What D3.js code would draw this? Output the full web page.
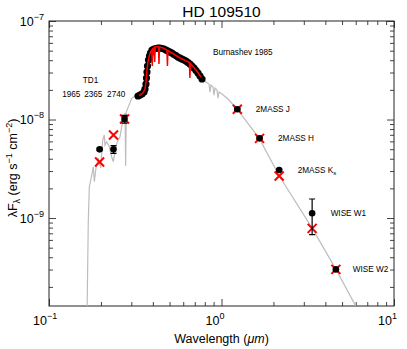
<!DOCTYPE html>
<html>
<head>
<meta charset="utf-8">
<script src="https://cdn.jsdelivr.net/npm/d3@7"></script>
<style>
  body { margin: 0; background: #fff; }
  svg { font-family: "Liberation Sans", Arial, Helvetica, sans-serif; }
</style>
</head>
<body>
<div id="chart"></div>
<script>
// model SED (grey line), wavelength in micron, lambda*F_lambda in erg s-1 cm-2
const modelWave = [0.1661, 0.1690, 0.1713, 0.1769, 0.1807, 0.1831, 0.1873, 0.1931, 0.1994, 0.2048,
  0.2092, 0.2111, 0.2160, 0.2236, 0.2309, 0.2359, 0.2413, 0.2469, 0.2580, 0.2639,
  0.2696, 0.2759, 0.2782, 0.2804, 0.3017, 0.3152, 0.3281, 0.3601, 0.3649, 0.3774,
  0.3955, 0.4401, 0.5029, 0.6227, 0.7709, 0.8128, 0.8463, 0.8577, 0.8692, 0.8926,
  0.9047, 0.9168, 0.9417, 0.9544, 0.9672, 1.0067, 1.0906, 1.235, 1.656, 2.163,
  3.36, 4.61, 6.00, 6.79];
const modelFlux = [1.0e-10, 9.54e-10, 2.08e-9, 2.73e-9, 3.32e-9, 2.34e-9, 3.22e-9, 4.07e-9, 3.22e-9, 6.19e-9,
  6.96e-9, 5.51e-9, 5.95e-9, 5.29e-9, 4.19e-9, 3.73e-9, 4.71e-9, 5.73e-9, 6.69e-9, 8.45e-9,
  9.88e-9, 1.164e-8, 3.37e-9, 1.192e-8, 1.641e-8, 1.732e-8, 1.75e-8, 2.04e-8, 2.29e-8, 4.02e-8,
  5.08e-8, 5.32e-8, 4.96e-8, 3.93e-8, 2.58e-8, 2.40e-8, 2.29e-8, 1.90e-8, 2.24e-8, 2.14e-8,
  1.77e-8, 2.09e-8, 1.99e-8, 1.65e-8, 1.90e-8, 1.815e-8, 1.614e-8, 1.27e-8, 6.44e-9, 2.67e-9,
  7.86e-10, 3.01e-10, 1.28e-10, 8.2e-11];

// Burnashev 1985 spectrophotometry (black dots)
const burnWave = [0.3281, 0.3369, 0.3459, 0.3553, 0.3601, 0.3649, 0.3674, 0.3698, 0.3724, 0.3774,
  0.3825, 0.3876, 0.3955, 0.4062, 0.4172, 0.4285, 0.4401, 0.4520, 0.4642, 0.4768,
  0.4897, 0.5029, 0.5165, 0.5305, 0.5449, 0.5596, 0.5748, 0.5903, 0.6063, 0.6227,
  0.6395, 0.6568, 0.6746, 0.6929, 0.7116, 0.7309, 0.7506, 0.7709];
const burnFlux = [1.732e-8, 1.773e-8, 1.815e-8, 1.902e-8, 2.040e-8, 2.293e-8, 2.638e-8, 3.035e-8, 3.492e-8, 4.018e-8,
  4.413e-8, 4.733e-8, 5.077e-8, 5.197e-8, 5.258e-8, 5.320e-8, 5.320e-8, 5.258e-8, 5.197e-8, 5.077e-8,
  4.958e-8, 4.843e-8, 4.733e-8, 4.570e-8, 4.465e-8, 4.311e-8, 4.211e-8, 4.113e-8, 4.018e-8, 3.925e-8,
  3.790e-8, 3.660e-8, 3.492e-8, 3.333e-8, 3.144e-8, 2.966e-8, 2.764e-8, 2.577e-8];

// model convolved to the Burnashev resolution (red line)
const convWave = [0.3325, 0.3505, 0.3601, 0.3649, 0.3698, 0.3749, 0.3799, 0.3876, 0.3944, 0.397,
  0.3997, 0.4073, 0.410, 0.4127, 0.4313, 0.434, 0.4371, 0.4581, 0.4825, 0.486,
  0.4890, 0.5165, 0.5748, 0.6516, 0.656, 0.6603, 0.7116, 0.7606];
const convFlux = [1.753e-8, 1.858e-8, 2.040e-8, 2.402e-8, 3.181e-8, 3.835e-8, 4.311e-8, 4.843e-8, 5.077e-8, 3.492e-8,
  5.197e-8, 5.383e-8, 3.835e-8, 5.445e-8, 5.509e-8, 3.660e-8, 5.445e-8, 5.320e-8, 5.077e-8, 3.492e-8,
  5.018e-8, 4.733e-8, 4.211e-8, 3.790e-8, 2.638e-8, 3.703e-8, 3.181e-8, 2.701e-8];

// photometry: observed (black) and synthetic from the model (red crosses)
const photWave = [0.1965, 0.2365, 0.2740, 1.235, 1.662, 2.159, 3.353, 4.603];
const photFlux = [4.98e-9, 4.98e-9, 1.01e-8, 1.27e-8, 6.44e-9, 3.07e-9, 1.12e-9, 3.01e-10];
const photErr = [0.15e-9, 0.45e-9, 0.9e-9, 0.25e-9, 0.15e-9, 0.06e-9, 0.44e-9, 0.01e-9];
const synthFlux = [3.70e-9, 6.96e-9, 1.012e-8, 1.27e-8, 6.44e-9, 2.67e-9, 7.85e-10, 3.01e-10];

const bandNames = ['2MASS J', '2MASS H', '2MASS K', 'WISE W1', 'WISE W2'];
const td1Names = ['1965', '2365', '2740'];

const xMajor = [0.1, 1, 10];
const yMajor = [1e-9, 1e-8, 1e-7];

const width = 407, height = 349;
const margin = { top: 21, right: 13, bottom: 43, left: 49 };

const x = d3.scaleLog().domain([0.1, 10]).range([margin.left, width - margin.right]);
const y = d3.scaleLog().domain([1.28e-10, 1e-7]).range([height - margin.bottom, margin.top]);

function minorTicks(lo, hi) {
  const out = [];
  for (let e = Math.floor(Math.log10(lo)); e < Math.ceil(Math.log10(hi)); e++) {
    for (let k = 2; k <= 9; k++) {
      const v = k * Math.pow(10, e);
      if (v > lo && v < hi) out.push(v);
    }
  }
  return out;
}

const svg = d3.select('#chart').append('svg')
  .attr('width', width)
  .attr('height', height);

svg.append('clipPath').attr('id', 'clip')
  .append('rect')
  .attr('x', margin.left).attr('y', margin.top)
  .attr('width', width - margin.left - margin.right)
  .attr('height', height - margin.top - margin.bottom);

// ticks on all four sides, pointing inward
const xb = height - margin.bottom, yt = margin.top;
const xl = margin.left, xr = width - margin.right;
function tickRow(axisFn, scale, values, size, transform) {
  const g = svg.append('g').attr('transform', transform)
    .call(axisFn(scale).tickValues(values).tickSize(size).tickFormat(''));
  g.select('.domain').remove();
  g.selectAll('.tick line').attr('stroke', '#444').attr('stroke-width', 1);
}
const xMinor = minorTicks(0.1, 10), yMinor = minorTicks(1.28e-10, 1e-7);
tickRow(d3.axisBottom, x, xMajor, -7, `translate(0,${xb})`);
tickRow(d3.axisBottom, x, xMinor, -4, `translate(0,${xb})`);
tickRow(d3.axisTop, x, xMajor, -7, `translate(0,${yt})`);
tickRow(d3.axisTop, x, xMinor, -4, `translate(0,${yt})`);
tickRow(d3.axisLeft, y, yMajor, -7, `translate(${xl},0)`);
tickRow(d3.axisLeft, y, yMinor, -4, `translate(${xl},0)`);
tickRow(d3.axisRight, y, yMajor, -7, `translate(${xr},0)`);
tickRow(d3.axisRight, y, yMinor, -4, `translate(${xr},0)`);

svg.append('rect')
  .attr('x', xl).attr('y', yt)
  .attr('width', xr - xl).attr('height', xb - yt)
  .attr('fill', 'none').attr('stroke', '#222').attr('stroke-width', 1);

// tick labels 10^n
yMajor.forEach(v => {
  const t = svg.append('text')
    .attr('x', 44).attr('y', y(v) + 4.5)
    .attr('text-anchor', 'end').attr('font-size', 12.5);
  t.append('tspan').text('10');
  t.append('tspan').attr('dy', -6).attr('font-size', 9).text('\u2212' + Math.round(-Math.log10(v)));
});
xMajor.forEach(v => {
  const e = Math.round(Math.log10(v));
  svg.append('text')
    .attr('x', x(v) - 2).attr('y', 325)
    .attr('text-anchor', 'end').attr('font-size', 12.5)
    .text('10');
  svg.append('text')
    .attr('x', x(v) - 2).attr('y', 319)
    .attr('font-size', 9)
    .text(e < 0 ? '\u2212' + (-e) : String(e));
});

// model spectrum
const line = d3.line()
  .x(d => x(d[0]))
  .y(d => y(d[1]));

const plot = svg.append('g').attr('clip-path', 'url(#clip)');

plot.append('path')
  .attr('d', line(d3.zip(modelWave, modelFlux)))
  .attr('fill', 'none')
  .attr('stroke', '#bdbdbd')
  .attr('stroke-width', 1.2);

plot.selectAll('.burn')
  .data(d3.zip(burnWave, burnFlux))
  .enter()
  .append('circle')
  .attr('class', 'burn')
  .attr('cx', d => x(d[0]))
  .attr('cy', d => y(d[1]))
  .attr('r', 3.6)
  .attr('fill', '#000');

plot.append('path')
  .attr('d', line(d3.zip(convWave, convFlux)))
  .attr('fill', 'none')
  .attr('stroke', '#ff0000')
  .attr('stroke-width', 1.5);

// synthetic photometry crosses
const cs = 4.5;
const phot = photWave.map((w, i) => ({ w, f: photFlux[i], e: photErr[i], s: synthFlux[i] }));
phot.forEach(d => {
  const cx = x(d.w), cy = y(d.s);
  plot.append('path')
    .attr('d', `M${cx - cs},${cy - cs}L${cx + cs},${cy + cs}M${cx - cs},${cy + cs}L${cx + cs},${cy - cs}`)
    .attr('stroke', '#ff0000')
    .attr('stroke-width', 2)
    .attr('fill', 'none');
});

// observed photometry with error bars
phot.forEach(d => {
  const cx = x(d.w);
  const y0 = y(d.f + d.e), y1 = y(d.f - d.e);
  plot.append('path')
    .attr('d', `M${cx},${y0}L${cx},${y1}M${cx - 3},${y0}L${cx + 3},${y0}M${cx - 3},${y1}L${cx + 3},${y1}`)
    .attr('stroke', '#000')
    .attr('stroke-width', 1.2)
    .attr('fill', 'none');
  plot.append('circle')
    .attr('cx', cx).attr('cy', y(d.f))
    .attr('r', 3.3)
    .attr('fill', '#000');
});

// annotations
const small = 8.2;
bandNames.forEach((name, i) => {
  const d = phot[i + 3];
  const t = svg.append('text')
    .attr('x', x(d.w) + (i === 4 ? 17 : 18.5)).attr('y', y(d.f) + 2.5)
    .attr('font-size', small);
  t.append('tspan').text(name);
  if (name === '2MASS K') t.append('tspan').attr('dy', 2.5).attr('font-size', 6).text('s');
});

svg.append('text').attr('x', 213).attr('y', 55).attr('font-size', small).text('Burnashev 1985');
svg.append('text').attr('x', 90.5).attr('y', 83).attr('text-anchor', 'middle').attr('font-size', small).text('TD1');
const td1x = [71.3, 93.3, 116.2];
td1Names.forEach((s, i) => {
  svg.append('text').attr('x', td1x[i]).attr('y', 97).attr('text-anchor', 'middle')
    .attr('font-size', small).text(s);
});

// title and axis labels
svg.append('text')
  .attr('x', 221.5).attr('y', 16.5)
  .attr('text-anchor', 'middle').attr('font-size', 15.5)
  .text('HD 109510');

const xl2 = svg.append('text')
  .attr('x', 221.5).attr('y', 343)
  .attr('text-anchor', 'middle').attr('font-size', 12.5);
xl2.append('tspan').text('Wavelength (');
xl2.append('tspan').attr('font-style', 'italic').text('\u03bcm');
xl2.append('tspan').text(')');

const yl = svg.append('text')
  .attr('transform', 'translate(17,168) rotate(-90)')
  .attr('text-anchor', 'middle').attr('font-size', 12.5);
yl.append('tspan').text('\u03bbF');
yl.append('tspan').attr('dy', 3).attr('font-size', 9).text('\u03bb');
yl.append('tspan').attr('dy', -3).text(' (erg s');
yl.append('tspan').attr('dy', -5).attr('font-size', 9).text('\u22121');
yl.append('tspan').attr('dy', 5).text(' cm');
yl.append('tspan').attr('dy', -5).attr('font-size', 9).text('\u22122');
yl.append('tspan').attr('dy', 5).text(')');
</script>
</body>
</html>
